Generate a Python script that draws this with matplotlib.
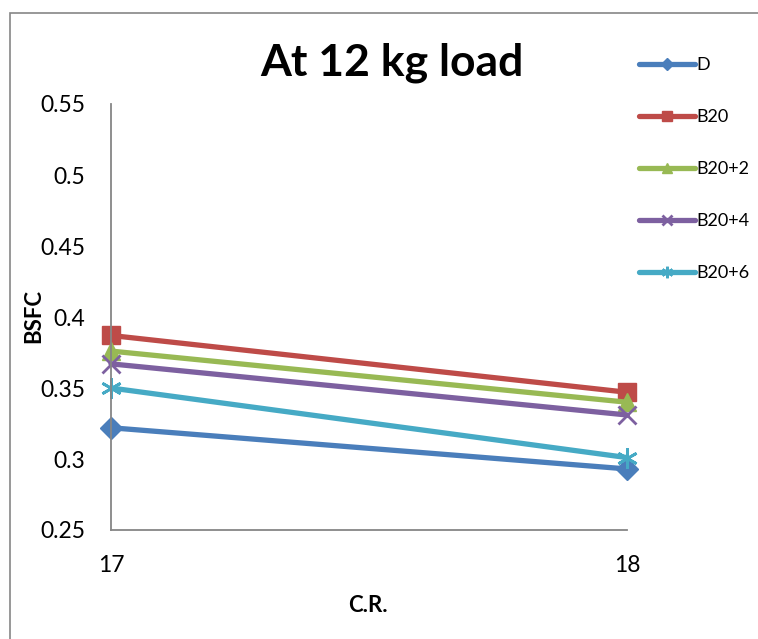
import matplotlib
matplotlib.use("Agg")
import matplotlib.pyplot as plt
from matplotlib.patches import Rectangle

categories = ["17", "18"]
series_names = ["D", "B20", "B20+2", "B20+4", "B20+6"]
D = [0.322, 0.293]
B20 = [0.387, 0.347]
B20_2 = [0.376, 0.340]
B20_4 = [0.367, 0.331]
B20_6 = [0.350, 0.301]
yticks = [0.25, 0.3, 0.35, 0.4, 0.45, 0.5, 0.55]
ytick_labels = ["0.25", "0.3", "0.35", "0.4", "0.45", "0.5", "0.55"]

colors = ["#4A7EBB", "#BE4B48", "#98B954", "#7D60A0", "#46AAC5"]
markers = ["D", "s", "^", "x", (6, 2, 0)]
msizes = [11, 13, 13, 13, 15]

plt.rcParams['font.family'] = ['Lato', 'DejaVu Sans']

fig = plt.figure(figsize=(7.58, 6.39), dpi=100)
fig.patch.set_facecolor("white")
# chart border
fig.add_artist(Rectangle((10/758, -0.05), 1.1, 1 - 13/639 + 0.05, transform=fig.transFigure,
                         fill=False, edgecolor="#868686", linewidth=1.2))

ax = fig.add_axes([111/758, 1 - 530/639, (627 - 111)/758, (530 - 104)/639])
x = list(range(len(categories)))
data = [D, B20, B20_2, B20_4, B20_6]
handles = []
for name, vals, c, m, ms in zip(series_names, data, colors, markers, msizes):
    h, = ax.plot(x, vals, color=c, linewidth=3.8, marker=m, markersize=ms,
                 markeredgewidth=2 if m in ("x",) or isinstance(m, tuple) else 1,
                 markeredgecolor=c, markerfacecolor=c, label=name, clip_on=False,
                 solid_capstyle="round")
    handles.append(h)

ax.set_xlim(0, 1)
ax.set_ylim(0.25, 0.55)
ax.set_yticks(yticks)
ax.set_yticklabels(ytick_labels)
ax.set_xticks(x)
ax.set_xticklabels(categories)
ax.tick_params(axis="both", length=0, labelsize=16.5)
ax.tick_params(axis="y", pad=18.5)
ax.tick_params(axis="x", pad=18)
for s in ["top", "right"]:
    ax.spines[s].set_visible(False)
for s in ["left", "bottom"]:
    ax.spines[s].set_color("#868686")
    ax.spines[s].set_linewidth(1.3)
ax.spines["bottom"].set_bounds(0, 1)

fig.text(368/758, 1 - 605/639, "C.R.", fontsize=16, fontweight="bold",
         ha="center", va="center")
fig.text(34/758, 1 - 316/639, "BSFC", fontsize=16, fontweight="bold",
         ha="center", va="center", rotation=90)

fig.text(392/758, 1 - 63/639, "At 12 kg load", fontsize=32, fontweight="bold",
         ha="center", va="center")

leg = fig.legend(handles=handles, labels=series_names, loc="upper left",
                 bbox_to_anchor=(630/758, 1 - 48/639), frameon=False, fontsize=13,
                 markerscale=0.55, handlelength=3.1, handletextpad=0.1,
                 labelspacing=2.0, borderpad=0)

fig.savefig("out.png", dpi=100)
